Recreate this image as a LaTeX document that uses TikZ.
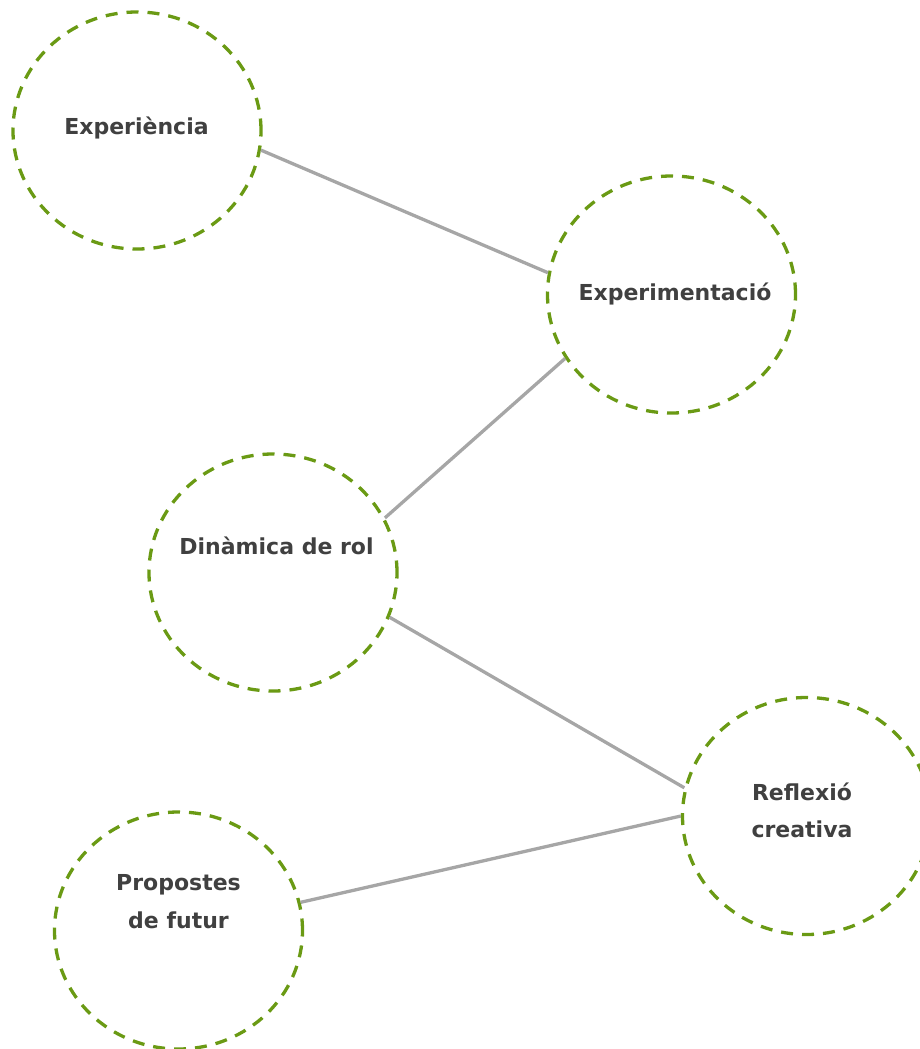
\documentclass[tikz,border=0pt]{standalone}
\usepackage{fontspec}
\setmainfont{DejaVu Sans}
\usetikzlibrary{shapes.geometric}
\definecolor{circgreen}{HTML}{6A9A14}
\definecolor{linegray}{HTML}{A6A6A6}
\definecolor{textgray}{HTML}{404040}
\begin{document}
\begin{tikzpicture}[x=1pt,y=-1pt,
  bubble/.style={ellipse, draw=circgreen, line width=3.3pt, dash pattern=on 12pt off 9pt,
    minimum width=248pt, minimum height=237pt, inner sep=0pt},
  lbl/.style={anchor=base, text=textgray, font=\bfseries\fontsize{22}{27}\selectfont, inner sep=0pt},
  link/.style={draw=linegray, line width=3.3pt}]
\useasboundingbox (0,0) rectangle (920,1049);
\node[bubble] (exp) at (137,130.5) {};
\node[bubble] (expm) at (671.5,294.5) {};
\node[bubble] (din) at (273,572.5) {};
\node[bubble] (ref) at (806.5,816) {};
\node[bubble] (prop) at (178.5,930.5) {};
\node[lbl] (texp) at (136.5,134.5) {Experiència};
\node[lbl] (texpm) at (675,300) {Experimentació};
\node[lbl] (tdin) at (276.5,554) {Dinàmica de rol};
\node[lbl] (tref1) at (802,800) {Reflexió};
\node[lbl] (tref2) at (802,837) {creativa};
\node[lbl] (tprop1) at (178.5,890) {Propostes};
\node[lbl] (tprop2) at (178.5,928) {de futur};
\draw[link] (exp.-9.9) -- (expm.170);
\draw[link] (expm.211.9) -- (din.26.4);
\draw[link] (din.-21.6) -- (ref.167.9);
\draw[link] (ref.180) -- (prop.13.4);
\end{tikzpicture}
\end{document}
